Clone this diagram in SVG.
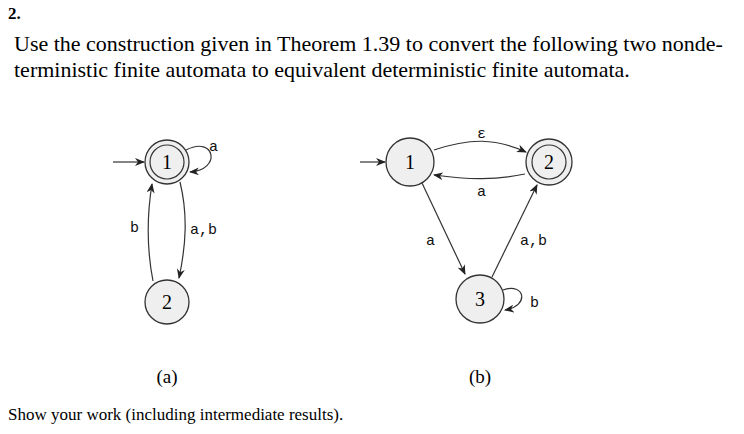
<svg xmlns="http://www.w3.org/2000/svg" width="744" height="434" viewBox="0 0 744 434">
<defs><marker id="ah" markerWidth="10" markerHeight="8" refX="9" refY="4" orient="auto" markerUnits="userSpaceOnUse"><path d="M0,0 L10,4 L0,8 L3,4 Z" fill="#222"/></marker></defs>
<style>
.t{font-family:"Liberation Serif",serif;fill:#000}
.n{fill:#efefef;stroke:#333;stroke-width:1.3}
.l{font-family:"Liberation Mono",monospace;font-size:15px;fill:#111}
.e{fill:none;stroke:#333;stroke-width:1.2;marker-end:url(#ah)}
.s{font-family:"Liberation Serif",serif;font-size:20px;text-anchor:middle;dominant-baseline:central}
</style>
<rect width="744" height="434" fill="#fff"/>
<text class="t" x="8" y="19" font-size="17" font-weight="bold">2.</text>
<text class="t" x="14" y="51" font-size="22">Use the construction given in Theorem 1.39 to convert the following two nonde-</text>
<text class="t" x="14" y="77" font-size="22">terministic finite automata to equivalent deterministic finite automata.</text>
<g id="connectors">
<path class="e" d="M113,162 L144,162"/>
<path class="e" d="M186,150 C215,135 222,170 190,172"/>
<path class="e" d="M180,182 C188,215 186,245 179,278"/>
<path class="e" d="M153,281 C146,245 147,215 152,184"/>
<path class="e" d="M360,162 L385,162"/>
<path class="e" d="M434,150 C470,138 495,138 526,152"/>
<path class="e" d="M525,174 C495,180 470,180 434,175"/>
<path class="e" d="M422,183 L465,274"/>
<path class="e" d="M492,277 L537,185"/>
<path class="e" d="M503,290 C525,282 530,306 505,310"/>
</g>
<text class="l" x="209" y="151">a</text>
<text class="l" x="190" y="234">a,b</text>
<text class="l" x="130" y="232">b</text>
<text class="l" x="477" y="138">ε</text>
<text class="l" x="477" y="196">a</text>
<text class="l" x="426" y="245">a</text>
<text class="l" x="520" y="245">a,b</text>
<text class="l" x="530" y="307">b</text>
<g id="a1"><circle class="n" cx="167" cy="162" r="22"/><circle cx="167" cy="162" r="17" fill="none" stroke="#333" stroke-width="1.2"/><text class="s" x="167" y="162">1</text></g>
<g id="a2"><circle class="n" cx="167" cy="302" r="22"/><text class="s" x="167" y="302">2</text></g>
<g id="b1"><circle class="n" cx="410" cy="162" r="24"/><text class="s" x="410" y="162">1</text></g>
<g id="b2"><circle class="n" cx="549" cy="162" r="23"/><circle cx="549" cy="162" r="17" fill="none" stroke="#333" stroke-width="1.2"/><text class="s" x="549" y="162">2</text></g>
<g id="b3"><circle class="n" cx="480" cy="299" r="24"/><text class="s" x="480" y="299">3</text></g>
<text class="t" x="167" y="383" font-size="19" text-anchor="middle">(a)</text>
<text class="t" x="480" y="383" font-size="19" text-anchor="middle">(b)</text>
<text class="t" x="8" y="420" font-size="17">Show your work (including intermediate results).</text>
</svg>
